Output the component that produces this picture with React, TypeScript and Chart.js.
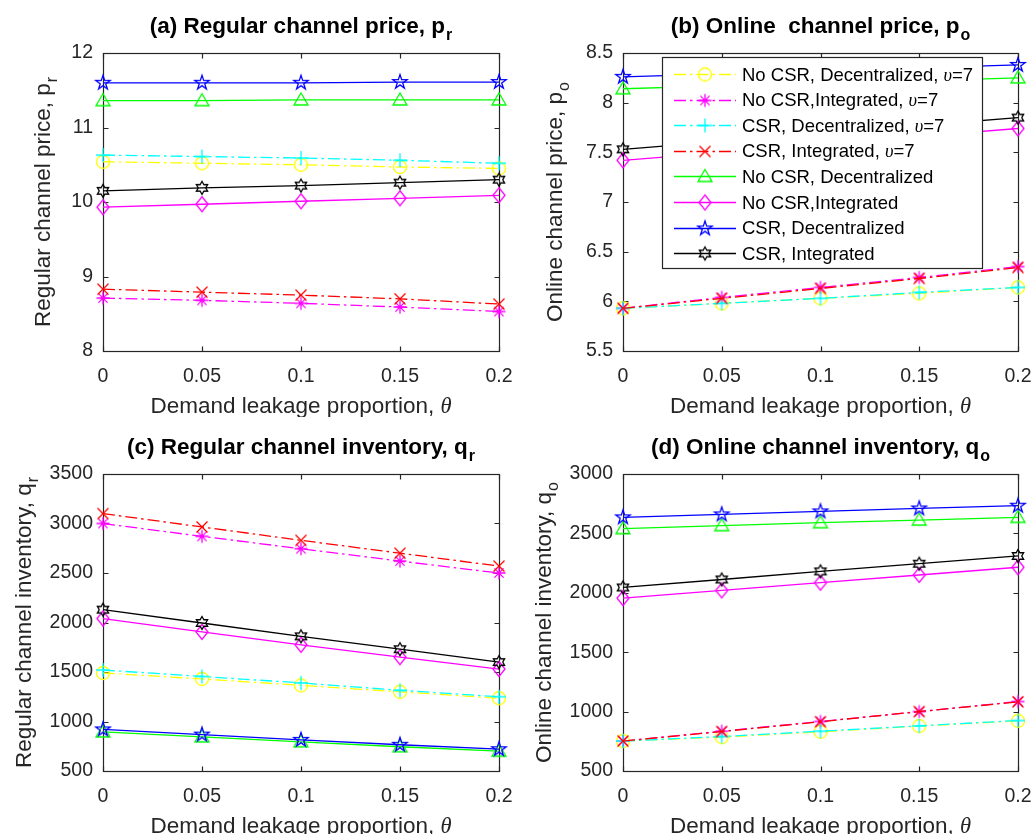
import React, { useEffect, useRef } from 'react';
import { Chart, registerables } from 'chart.js';

Chart.register(...registerables);

// Demand leakage proportion on the x axis
const THETA = [0, 0.05, 0.1, 0.15, 0.2];
const THETA_TICKS = [0, 0.05, 0.1, 0.15, 0.2];

const SERIES_NAMES = [
  'No CSR, Decentralized, υ=7',
  'No CSR,Integrated, υ=7',
  'CSR, Decentralized, υ=7',
  'CSR, Integrated, υ=7',
  'No CSR, Decentralized',
  'No CSR,Integrated',
  'CSR, Decentralized',
  'CSR, Integrated',
];
const SERIES_COLORS = ['#ffff00', '#ff00ff', '#00ffff', '#ff0000', '#00ff00', '#ff00ff', '#0000ff', '#000000'];
const SERIES_MARKERS = ['circle', 'asterisk', 'plus', 'cross', 'triangle', 'diamond', 'pentagram', 'hexagram'];
const SERIES_DASHED = [true, true, true, true, false, false, false, false];

// (a) regular channel price p_r, one row per series (same order as SERIES_NAMES)
const PR_VALUES = [
  [10.54, 10.52, 10.5, 10.47, 10.45],
  [8.71, 8.68, 8.64, 8.59, 8.53],
  [10.63, 10.61, 10.59, 10.56, 10.52],
  [8.83, 8.79, 8.75, 8.7, 8.63],
  [11.36, 11.36, 11.37, 11.37, 11.37],
  [9.93, 9.97, 10.01, 10.05, 10.09],
  [11.6, 11.6, 11.6, 11.61, 11.61],
  [10.15, 10.19, 10.22, 10.26, 10.3],
];
const PR_TICKS = [8, 9, 10, 11, 12];

// (b) online channel price p_o
const PO_VALUES = [
  [5.93, 5.98, 6.03, 6.08, 6.14],
  [5.93, 6.04, 6.14, 6.24, 6.35],
  [5.93, 5.98, 6.03, 6.09, 6.14],
  [5.93, 6.03, 6.13, 6.23, 6.34],
  [8.14, 8.17, 8.2, 8.22, 8.25],
  [7.42, 7.5, 7.58, 7.66, 7.74],
  [8.26, 8.29, 8.32, 8.35, 8.38],
  [7.53, 7.61, 7.69, 7.77, 7.85],
];
const PO_TICKS = [5.5, 6, 6.5, 7, 7.5, 8, 8.5];

// (c) regular channel inventory q_r
const QR_VALUES = [
  [1490, 1430, 1365, 1300, 1235],
  [3000, 2870, 2745, 2620, 2500],
  [1520, 1455, 1390, 1315, 1250],
  [3100, 2965, 2830, 2700, 2570],
  [895, 845, 795, 745, 700],
  [2040, 1905, 1775, 1650, 1530],
  [920, 868, 815, 765, 720],
  [2130, 1995, 1860, 1730, 1600],
];
const QR_TICKS = [500, 1000, 1500, 2000, 2500, 3000, 3500];

// (d) online channel inventory q_o
const QO_VALUES = [
  [752, 785, 830, 878, 922],
  [752, 835, 917, 1000, 1085],
  [752, 790, 835, 880, 925],
  [752, 832, 915, 1000, 1082],
  [2540, 2565, 2590, 2612, 2635],
  [1955, 2020, 2085, 2150, 2215],
  [2635, 2660, 2685, 2710, 2733],
  [2045, 2112, 2180, 2245, 2310],
];
const QO_TICKS = [500, 1000, 1500, 2000, 2500, 3000];

const SANS = "'Liberation Sans', Arial, Helvetica, sans-serif";
const SERIF = "'Liberation Serif', 'DejaVu Serif', 'Times New Roman', serif";
const AXIS_COLOR = '#262626';
const DASH_DOT = [12, 4, 2.5, 4];
const LINE_W = 1.3;
const CANVAS_W = 516;
const CANVAS_H = 417;
const MARK = 22;

type Seg = { text: string; font: string; dy?: number; gap?: number };

function traceMarker(ctx: CanvasRenderingContext2D, shape: string, x: number, y: number) {
  ctx.beginPath();
  if (shape === 'circle') {
    ctx.arc(x, y, 6.5, 0, Math.PI * 2);
  } else if (shape === 'asterisk') {
    const r = 6.5;
    for (let k = 0; k < 4; k++) {
      const a = (k * Math.PI) / 4;
      ctx.moveTo(x - r * Math.cos(a), y - r * Math.sin(a));
      ctx.lineTo(x + r * Math.cos(a), y + r * Math.sin(a));
    }
  } else if (shape === 'plus') {
    const r = 7;
    ctx.moveTo(x - r, y);
    ctx.lineTo(x + r, y);
    ctx.moveTo(x, y - r);
    ctx.lineTo(x, y + r);
  } else if (shape === 'cross') {
    const r = 5.5;
    ctx.moveTo(x - r, y - r);
    ctx.lineTo(x + r, y + r);
    ctx.moveTo(x - r, y + r);
    ctx.lineTo(x + r, y - r);
  } else if (shape === 'triangle') {
    ctx.moveTo(x, y - 7);
    ctx.lineTo(x + 7, y + 5);
    ctx.lineTo(x - 7, y + 5);
    ctx.closePath();
  } else if (shape === 'diamond') {
    ctx.moveTo(x, y - 7.5);
    ctx.lineTo(x + 6, y);
    ctx.lineTo(x, y + 7.5);
    ctx.lineTo(x - 6, y);
    ctx.closePath();
  } else if (shape === 'pentagram') {
    const R = 7.5;
    const r = R * 0.382;
    for (let k = 0; k < 10; k++) {
      const a = -Math.PI / 2 + (k * Math.PI) / 5;
      const rr = k % 2 === 0 ? R : r;
      const px = x + rr * Math.cos(a);
      const py = y + rr * Math.sin(a);
      if (k === 0) ctx.moveTo(px, py);
      else ctx.lineTo(px, py);
    }
    ctx.closePath();
  } else if (shape === 'hexagram') {
    const R = 6.5;
    const r = R / Math.sqrt(3);
    for (let k = 0; k < 12; k++) {
      const a = -Math.PI / 2 + (k * Math.PI) / 6;
      const rr = k % 2 === 0 ? R : r;
      const px = x + rr * Math.cos(a);
      const py = y + rr * Math.sin(a);
      if (k === 0) ctx.moveTo(px, py);
      else ctx.lineTo(px, py);
    }
    ctx.closePath();
  }
  ctx.stroke();
}

function makeMarker(shape: string, color: string): HTMLCanvasElement {
  const c = document.createElement('canvas');
  c.width = MARK;
  c.height = MARK;
  const ctx = c.getContext('2d')!;
  ctx.strokeStyle = color;
  ctx.lineWidth = LINE_W;
  traceMarker(ctx, shape, MARK / 2, MARK / 2);
  return c;
}

function drawSegs(ctx: CanvasRenderingContext2D, segs: Seg[], cx: number, baseline: number, align: 'center' | 'left') {
  const widths = segs.map((s) => {
    ctx.font = s.font;
    return ctx.measureText(s.text).width + (s.gap || 0);
  });
  const total = widths.reduce((a, b) => a + b, 0);
  let x = align === 'center' ? cx - total / 2 : cx;
  ctx.textAlign = 'left';
  ctx.textBaseline = 'alphabetic';
  segs.forEach((s, i) => {
    ctx.font = s.font;
    ctx.fillText(s.text, x + (s.gap || 0), baseline + (s.dy || 0));
    x += widths[i];
  });
}

function withSub(text: string, sub: string, size: number, bold: boolean): Seg[] {
  const w = bold ? 'bold ' : '';
  return [
    { text, font: `${w}${size}px ${SANS}` },
    { text: sub, font: `${w}${Math.round(size * 0.72)}px ${SANS}`, dy: 7, gap: 1 },
  ];
}

function legendSegs(label: string, size: number): Seg[] {
  const parts = label.split('υ');
  if (parts.length < 2) return [{ text: label, font: `${size}px ${SANS}` }];
  return [
    { text: parts[0], font: `${size}px ${SANS}` },
    { text: 'υ', font: `italic ${size}px ${SERIF}` },
    { text: parts[1], font: `${size}px ${SANS}` },
  ];
}

type Area = { left: number; top: number; right: number; bottom: number };

type PanelDef = {
  title: string;
  titleSub: string;
  yLabel: string;
  ySub: string;
  values: number[][];
  yTicks: number[];
  legend: boolean;
  area: Area;
  yLabelBaseline: number;
};

const PANELS: { def: PanelDef; left: number; top: number }[] = [
  {
    left: 0,
    top: 0,
    def: {
      title: '(a) Regular channel price, p',
      titleSub: 'r',
      yLabel: 'Regular channel price, p',
      ySub: 'r',
      values: PR_VALUES,
      yTicks: PR_TICKS,
      legend: false,
      area: { left: 103, top: 53, right: 499, bottom: 351 },
      yLabelBaseline: 50,
    },
  },
  {
    left: 516,
    top: 0,
    def: {
      title: '(b) Online  channel price, p',
      titleSub: 'o',
      yLabel: 'Online channel price, p',
      ySub: 'o',
      values: PO_VALUES,
      yTicks: PO_TICKS,
      legend: true,
      area: { left: 107, top: 53, right: 502, bottom: 351 },
      yLabelBaseline: 46,
    },
  },
  {
    left: 0,
    top: 417,
    def: {
      title: '(c) Regular channel inventory, q',
      titleSub: 'r',
      yLabel: 'Regular channel inventory, q',
      ySub: 'r',
      values: QR_VALUES,
      yTicks: QR_TICKS,
      legend: false,
      area: { left: 103, top: 57, right: 499, bottom: 354 },
      yLabelBaseline: 31,
    },
  },
  {
    left: 516,
    top: 417,
    def: {
      title: '(d) Online channel inventory, q',
      titleSub: 'o',
      yLabel: 'Online channel inventory, q',
      ySub: 'o',
      values: QO_VALUES,
      yTicks: QO_TICKS,
      legend: false,
      area: { left: 107, top: 57, right: 502, bottom: 354 },
      yLabelBaseline: 35,
    },
  },
];

// Box around the plot area with inward tick marks on all four sides
const framePlugin = {
  id: 'matFrame',
  beforeDatasetsDraw(chart: any) {
    const { ctx, chartArea: a, scales } = chart;
    const L = Math.round(a.left) + 0.5;
    const R = Math.round(a.right) + 0.5;
    const T = Math.round(a.top) + 0.5;
    const B = Math.round(a.bottom) + 0.5;
    ctx.save();
    ctx.strokeStyle = AXIS_COLOR;
    ctx.lineWidth = 1.2;
    ctx.setLineDash([]);
    ctx.strokeRect(L, T, R - L, B - T);
    ctx.beginPath();
    const tl = 5;
    for (const t of scales.x.ticks) {
      const px = Math.round(scales.x.getPixelForValue(t.value)) + 0.5;
      ctx.moveTo(px, B);
      ctx.lineTo(px, B - tl);
      ctx.moveTo(px, T);
      ctx.lineTo(px, T + tl);
    }
    for (const t of scales.y.ticks) {
      const py = Math.round(scales.y.getPixelForValue(t.value)) + 0.5;
      ctx.moveTo(L, py);
      ctx.lineTo(L + tl, py);
      ctx.moveTo(R, py);
      ctx.lineTo(R - tl, py);
    }
    ctx.stroke();
    ctx.restore();
  },
};

function textPlugin(def: PanelDef, markers: HTMLCanvasElement[]) {
  return {
    id: 'matText',
    afterDraw(chart: any) {
      const { ctx, chartArea: a } = chart;
      const cx = (a.left + a.right) / 2;
      const cy = (a.top + a.bottom) / 2;
      ctx.save();
      // title
      ctx.fillStyle = '#000000';
      drawSegs(ctx, withSub(def.title, def.titleSub, 22.5, true), cx, a.top - 20, 'center');
      // x axis label
      ctx.fillStyle = AXIS_COLOR;
      drawSegs(
        ctx,
        [
          { text: 'Demand leakage proportion, ', font: `22.5px ${SANS}` },
          { text: 'θ', font: `italic 22.5px ${SERIF}` },
        ],
        cx,
        a.bottom + 62,
        'center'
      );
      // y axis label
      ctx.save();
      ctx.translate(def.yLabelBaseline, cy);
      ctx.rotate(-Math.PI / 2);
      drawSegs(ctx, withSub(def.yLabel, def.ySub, 22.5, false), 0, 0, 'center');
      ctx.restore();

      if (def.legend) {
        const L = a.left + 39;
        const T = a.top + 4;
        const R = a.right - 36;
        const B = a.top + 215;
        ctx.fillStyle = '#ffffff';
        ctx.fillRect(L, T, R - L, B - T);
        ctx.strokeStyle = AXIS_COLOR;
        ctx.lineWidth = 1.2;
        ctx.setLineDash([]);
        ctx.strokeRect(Math.round(L) + 0.5, Math.round(T) + 0.5, Math.round(R - L), Math.round(B - T));
        SERIES_NAMES.forEach((name, i) => {
          const y = T + 17 + i * 25.6;
          ctx.save();
          ctx.strokeStyle = SERIES_COLORS[i];
          ctx.lineWidth = LINE_W;
          ctx.setLineDash(SERIES_DASHED[i] ? DASH_DOT : []);
          ctx.beginPath();
          ctx.moveTo(L + 12, Math.round(y) + 0.5);
          ctx.lineTo(L + 74, Math.round(y) + 0.5);
          ctx.stroke();
          ctx.restore();
          ctx.drawImage(markers[i], L + 43 - MARK / 2, Math.round(y) + 0.5 - MARK / 2);
          ctx.fillStyle = '#000000';
          drawSegs(ctx, legendSegs(name, 18.5), L + 80, y + 6.5, 'left');
        });
      }
      ctx.restore();
    },
  };
}

function Panel({ def, left, top }: { def: PanelDef; left: number; top: number }) {
  const ref = useRef<HTMLCanvasElement>(null);

  useEffect(() => {
    const canvas = ref.current;
    if (!canvas) return;
    const markers = SERIES_MARKERS.map((m, i) => makeMarker(m, SERIES_COLORS[i]));
    const { area, yTicks } = def;
    const tickFont = { family: SANS, size: 19.5 };
    const chart = new Chart(canvas, {
      type: 'line',
      data: {
        datasets: def.values.map((vals, i) => ({
          label: SERIES_NAMES[i],
          data: THETA.map((t, j) => ({ x: t, y: vals[j] })),
          borderColor: SERIES_COLORS[i],
          borderWidth: LINE_W,
          borderDash: SERIES_DASHED[i] ? DASH_DOT : [],
          pointStyle: markers[i],
          pointRadius: 6,
          pointHoverRadius: 6,
          pointBorderWidth: 1,
          pointBackgroundColor: 'rgba(0,0,0,0)',
          pointBorderColor: SERIES_COLORS[i],
          fill: false,
          tension: 0,
          clip: false,
          order: SERIES_NAMES.length - i,
        })),
      },
      options: {
        responsive: false,
        animation: false,
        devicePixelRatio: 1,
        events: [],
        layout: { padding: { left: 0, top: area.top, right: CANVAS_W - area.right, bottom: 0 } },
        plugins: {
          legend: { display: false },
          tooltip: { enabled: false },
          title: { display: false },
        },
        scales: {
          x: {
            type: 'linear',
            min: THETA_TICKS[0],
            max: THETA_TICKS[THETA_TICKS.length - 1],
            afterBuildTicks: (s: any) => {
              s.ticks = THETA_TICKS.map((v) => ({ value: v }));
            },
            afterFit: (s: any) => {
              s.height = CANVAS_H - area.bottom;
              s.paddingLeft = 0;
              s.paddingRight = 0;
              s.paddingTop = 0;
              s.paddingBottom = 0;
            },
            grid: { display: false, drawTicks: false },
            border: { display: false },
            ticks: {
              padding: 14,
              color: AXIS_COLOR,
              font: tickFont,
              maxRotation: 0,
              autoSkip: false,
              callback: (v: any) => String(v),
            },
          },
          y: {
            type: 'linear',
            min: yTicks[0],
            max: yTicks[yTicks.length - 1],
            afterBuildTicks: (s: any) => {
              s.ticks = yTicks.map((v) => ({ value: v }));
            },
            afterFit: (s: any) => {
              s.width = area.left;
              s.paddingLeft = 0;
              s.paddingRight = 0;
              s.paddingTop = 0;
              s.paddingBottom = 0;
            },
            grid: { display: false, drawTicks: false },
            border: { display: false },
            ticks: {
              padding: 10,
              color: AXIS_COLOR,
              font: tickFont,
              autoSkip: false,
              callback: (v: any) => String(v),
            },
          },
        },
      },
      plugins: [framePlugin, textPlugin(def, markers)],
    } as any);
    return () => chart.destroy();
  }, [def]);

  return (
    <canvas
      ref={ref}
      width={CANVAS_W}
      height={CANVAS_H}
      style={{ position: 'absolute', left, top, width: CANVAS_W, height: CANVAS_H }}
    />
  );
}

export default function App() {
  return (
    <div style={{ position: 'absolute', left: 0, top: 0, width: 1032, height: 834, background: '#ffffff' }}>
      {PANELS.map((p, i) => (
        <Panel key={i} def={p.def} left={p.left} top={p.top} />
      ))}
    </div>
  );
}
